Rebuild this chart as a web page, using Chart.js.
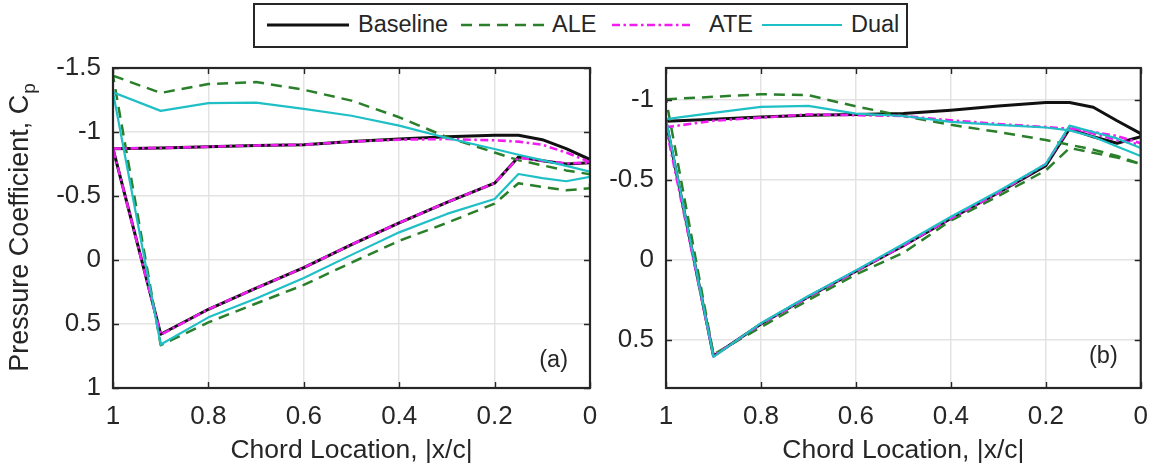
<!DOCTYPE html>
<html>
<head>
<meta charset="utf-8">
<script src="https://cdn.jsdelivr.net/npm/chart.js@4.4.1/dist/chart.umd.min.js"></script>
<style>
  html, body { margin: 0; padding: 0; background: #fff; width: 1161px; height: 472px; overflow: hidden; }
  canvas { position: absolute; left: 0; top: 0; }
  #legend { position: absolute; left: 253px; top: 3px; width: 655px; height: 45px; box-sizing: border-box;
            border: 2px solid #262626; background: #fff; }
  .lg-text { position: absolute; top: 25px; transform: translateY(-50%); font-family: "Liberation Sans", Arial, sans-serif;
             font-size: 23.5px; color: #262626; line-height: 1; white-space: nowrap; }
  .lg-line { position: absolute; top: 15px; height: 20px; overflow: visible; }
</style>
</head>
<body>
<canvas id="panelA" width="1161" height="472"></canvas>
<canvas id="panelB" width="1161" height="472"></canvas>
<div id="legendWrap"></div>
<script>
// ---- chord stations (|x/c|), upper surface then lower surface ----
const chordUpper = [1, 0.9, 0.8, 0.7, 0.6, 0.5, 0.4, 0.3, 0.2, 0.15, 0.1, 0.05, 0];
const chordLower = [0, 0.05, 0.1, 0.15, 0.2, 0.3, 0.4, 0.5, 0.6, 0.7, 0.8, 0.9, 1];

// ---- panel (a) pressure coefficients ----
const baselineA_up = [-0.87, -0.875, -0.885, -0.895, -0.9, -0.925, -0.945, -0.962, -0.975, -0.975, -0.94, -0.87, -0.785];
const baselineA_lo = [-0.76, -0.75, -0.775, -0.805, -0.6, -0.45, -0.29, -0.12, 0.06, 0.22, 0.385, 0.58, -0.87];
const aleA_up = [-1.44, -1.305, -1.375, -1.39, -1.33, -1.245, -1.115, -0.96, -0.84, -0.78, -0.74, -0.7, -0.67];
const aleA_lo = [-0.56, -0.545, -0.57, -0.6, -0.44, -0.29, -0.15, 0.02, 0.195, 0.34, 0.487, 0.665, -1.44];
const ateA_up = [-0.87, -0.875, -0.885, -0.895, -0.9, -0.925, -0.94, -0.945, -0.935, -0.925, -0.9, -0.84, -0.765];
const ateA_lo = [-0.76, -0.755, -0.775, -0.8, -0.6, -0.45, -0.29, -0.12, 0.06, 0.22, 0.385, 0.585, -0.87];
const dualA_up = [-1.31, -1.165, -1.225, -1.23, -1.18, -1.127, -1.05, -0.953, -0.867, -0.822, -0.78, -0.735, -0.69];
const dualA_lo = [-0.65, -0.615, -0.64, -0.672, -0.477, -0.36, -0.216, -0.04, 0.14, 0.3, 0.448, 0.66, -1.31];

// ---- panel (b) pressure coefficients ----
const baselineB_up = [-0.867, -0.88, -0.894, -0.905, -0.91, -0.915, -0.936, -0.962, -0.984, -0.984, -0.955, -0.87, -0.79];
const baselineB_lo = [-0.77, -0.73, -0.77, -0.82, -0.59, -0.42, -0.26, -0.09, 0.07, 0.23, 0.4, 0.6, -0.867];
const aleB_up = [-1.005, -1.02, -1.036, -1.03, -0.96, -0.9, -0.845, -0.8, -0.75, -0.72, -0.69, -0.65, -0.6];
const aleB_lo = [-0.6, -0.64, -0.67, -0.7, -0.56, -0.4, -0.246, -0.045, 0.09, 0.25, 0.42, 0.59, -1.005];
const ateB_up = [-0.83, -0.87, -0.89, -0.91, -0.905, -0.9, -0.873, -0.85, -0.831, -0.82, -0.8, -0.775, -0.73];
const ateB_lo = [-0.72, -0.75, -0.79, -0.83, -0.6, -0.42, -0.26, -0.09, 0.07, 0.23, 0.4, 0.6, -0.83];
const dualB_up = [-0.88, -0.92, -0.957, -0.963, -0.915, -0.9, -0.863, -0.845, -0.828, -0.81, -0.77, -0.71, -0.65];
const dualB_lo = [-0.7, -0.76, -0.8, -0.84, -0.6, -0.43, -0.27, -0.1, 0.065, 0.225, 0.395, 0.605, -0.88];

// ---- axis ticks ----
const xTicks = [1, 0.8, 0.6, 0.4, 0.2, 0];
const yTicksA = [-1.5, -1, -0.5, 0, 0.5, 1];
const yTicksB = [-1, -0.5, 0, 0.5];
const yRangeA = [-1.5, 1];
const yRangeB = [-1.2, 0.8];

// ---- series labels and styles ----
const seriesNames = ['Baseline', 'ALE', 'ATE', 'Dual'];
const STYLE = {
  Baseline: { color: '#111111', width: 3, dash: [] },
  ALE:      { color: '#2a7f2a', width: 2.5, dash: [11, 7] },
  ATE:      { color: '#f01cf0', width: 2.6, dash: [8, 3.5, 2.5, 3.5] },
  Dual:     { color: '#1fbfc6', width: 2.2, dash: [] }
};
const DRAW_ORDER = { Baseline: 3, ALE: 2, ATE: 1, Dual: 0 };

const FONT = '"Liberation Sans", Arial, Helvetica, sans-serif';
const INK = '#262626';
const TICK_LEN = 6;

function loop(up, lo) {
  const pts = chordUpper.map((x, i) => ({ x, y: up[i] }));
  return pts.concat(chordLower.map((x, i) => ({ x, y: lo[i] })));
}

function makeDatasets(sets) {
  return seriesNames.map((name, k) => ({
    label: name,
    data: loop(sets[k][0], sets[k][1]),
    showLine: true,
    borderColor: STYLE[name].color,
    backgroundColor: STYLE[name].color,
    borderWidth: STYLE[name].width,
    borderDash: STYLE[name].dash,
    borderCapStyle: 'butt',
    borderJoinStyle: 'round',
    pointRadius: 0,
    tension: 0,
    fill: false,
    order: DRAW_ORDER[name]
  }));
}

const fmt = v => String(v);

// frame box, inward ticks and panel texts
const frame = {
  id: 'frame',
  afterDatasetsDraw(chart, args, o) {
    const { ctx, chartArea: a } = chart;
    const xs = chart.scales.x, ys = chart.scales.y;
    ctx.save();
    ctx.strokeStyle = INK;
    ctx.lineWidth = 1.4;
    ctx.beginPath();
    xTicks.forEach(v => {
      const px = Math.round(xs.getPixelForValue(v)) + 0.5;
      ctx.moveTo(px, a.bottom); ctx.lineTo(px, a.bottom - TICK_LEN);
      ctx.moveTo(px, a.top); ctx.lineTo(px, a.top + TICK_LEN);
    });
    o.yTicks.forEach(v => {
      const py = Math.round(ys.getPixelForValue(v)) + 0.5;
      ctx.moveTo(a.left, py); ctx.lineTo(a.left + TICK_LEN, py);
      ctx.moveTo(a.right, py); ctx.lineTo(a.right - TICK_LEN, py);
    });
    ctx.stroke();
    ctx.lineWidth = 2.2;
    ctx.strokeRect(a.left, a.top, a.right - a.left, a.bottom - a.top);

    ctx.fillStyle = INK;
    // x-axis title
    ctx.font = `26.5px ${FONT}`;
    ctx.textAlign = 'center';
    ctx.textBaseline = 'middle';
    ctx.fillText('Chord Location, |x/c|', (a.left + a.right) / 2, 451);
    // panel tag
    ctx.font = `23.5px ${FONT}`;
    ctx.textAlign = 'right';
    ctx.fillText(o.tag, a.right - o.tagRight, a.bottom - o.tagUp);
    // y-axis title with subscript
    if (o.yTitle) {
      const main = 'Pressure Coefficient, C';
      const sub = 'p';
      ctx.translate(o.yTitleX, (a.top + a.bottom) / 2);
      ctx.rotate(-Math.PI / 2);
      ctx.font = `27px ${FONT}`;
      const w1 = ctx.measureText(main).width;
      ctx.font = `19px ${FONT}`;
      const w2 = ctx.measureText(sub).width;
      const x0 = -(w1 + w2) / 2;
      ctx.textAlign = 'left';
      ctx.textBaseline = 'middle';
      ctx.font = `27px ${FONT}`;
      ctx.fillText(main, x0, 0);
      ctx.font = `19px ${FONT}`;
      ctx.fillText(sub, x0 + w1 + 1, 9);
    }
    ctx.restore();
  }
};

function makeChart(id, sets, yTicks, yRange, area, deco) {
  const W = 1161, H = 472;
  return new Chart(document.getElementById(id), {
    type: 'scatter',
    data: { datasets: makeDatasets(sets) },
    options: {
      responsive: false,
      animation: false,
      devicePixelRatio: 1,
      layout: { padding: { left: area.padLeft, right: W - area.right, top: area.top, bottom: 0 } },
      plugins: {
        legend: { display: false },
        tooltip: { enabled: false },
        frame: Object.assign({ yTicks }, deco)
      },
      scales: {
        x: {
          type: 'linear', min: 0, max: 1, reverse: true,
          afterBuildTicks: s => { s.ticks = xTicks.map(v => ({ value: v })); },
          afterFit: s => { s.height = H - area.bottom; },
          ticks: { callback: fmt, color: INK, font: { family: FONT, size: 26 }, padding: 13, maxRotation: 0, autoSkip: false },
          grid: { color: '#e3e3e3', lineWidth: 1.5, drawTicks: false },
          border: { display: false }
        },
        y: {
          type: 'linear', min: yRange[0], max: yRange[1], reverse: true,
          afterBuildTicks: s => { s.ticks = yTicks.map(v => ({ value: v })); },
          afterFit: s => { s.width = area.left - area.padLeft; },
          ticks: { callback: fmt, color: INK, font: { family: FONT, size: 26 }, padding: 12, autoSkip: false },
          grid: { color: '#e3e3e3', lineWidth: 1.5, drawTicks: false },
          border: { display: false }
        }
      }
    },
    plugins: [frame]
  });
}

makeChart('panelA',
  [[baselineA_up, baselineA_lo], [aleA_up, aleA_lo], [ateA_up, ateA_lo], [dualA_up, dualA_lo]],
  yTicksA, yRangeA,
  { padLeft: 0, left: 113, right: 590, top: 68, bottom: 388 },
  { tag: '(a)', tagRight: 22, tagUp: 27, yTitle: true, yTitleX: 21 });

makeChart('panelB',
  [[baselineB_up, baselineB_lo], [aleB_up, aleB_lo], [ateB_up, ateB_lo], [dualB_up, dualB_lo]],
  yTicksB, yRangeB,
  { padLeft: 600, left: 666, right: 1143, top: 68, bottom: 388 },
  { tag: '(b)', tagRight: 23, tagUp: 31, yTitle: false });

// shared legend across both panels
const legendItems = [
  { name: 'Baseline', line: [267, 349], text: 358 },
  { name: 'ALE', line: [461, 544], text: 552 },
  { name: 'ATE', line: [612, 692], text: 709 },
  { name: 'Dual', line: [762, 842], text: 851 }
];
(function buildLegend() {
  const wrap = document.getElementById('legendWrap');
  const box = document.createElement('div');
  box.id = 'legend';
  wrap.appendChild(box);
  const NS = 'http://www.w3.org/2000/svg';
  legendItems.forEach(it => {
    const st = STYLE[it.name];
    const w = it.line[1] - it.line[0];
    const svg = document.createElementNS(NS, 'svg');
    svg.setAttribute('class', 'lg-line');
    svg.setAttribute('width', w);
    svg.setAttribute('height', 20);
    svg.style.left = it.line[0] + 'px';
    const ln = document.createElementNS(NS, 'line');
    ln.setAttribute('x1', 0); ln.setAttribute('x2', w);
    ln.setAttribute('y1', 10); ln.setAttribute('y2', 10);
    ln.setAttribute('stroke', st.color);
    ln.setAttribute('stroke-width', st.width);
    if (st.dash.length) ln.setAttribute('stroke-dasharray', st.dash.join(' '));
    svg.appendChild(ln);
    wrap.appendChild(svg);
    const t = document.createElement('div');
    t.className = 'lg-text';
    t.style.left = it.text + 'px';
    t.textContent = it.name;
    wrap.appendChild(t);
  });
})();
</script>
</body>
</html>
